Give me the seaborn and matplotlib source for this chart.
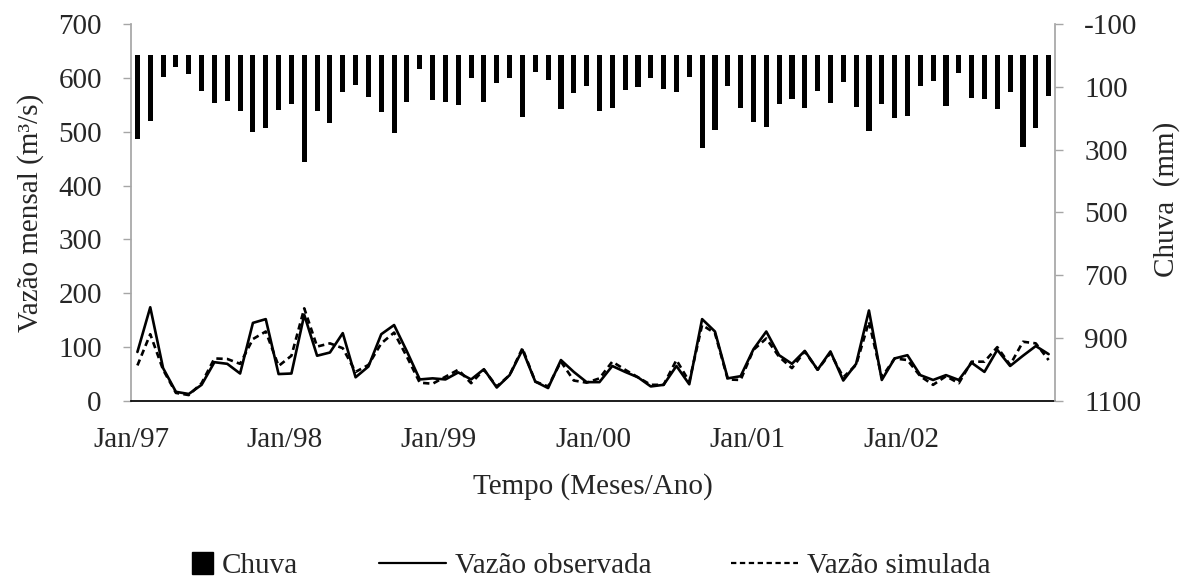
import numpy as np
import pandas as pd
import seaborn as sns
import matplotlib.pyplot as plt
from matplotlib.ticker import FixedLocator, MultipleLocator
from matplotlib.patches import Patch, Rectangle
from matplotlib.lines import Line2D
from matplotlib.legend_handler import HandlerPatch

# Dados mensais (Jan/97 a Dez/02)
chuva = [267, 208, 68, 38, 60, 113, 150, 144, 177, 243, 230, 174,
         155, 338, 178, 216, 117, 94, 133, 181, 247, 147, 42, 142,
         147, 158, 73, 148, 89, 73, 197, 52, 77, 172, 119, 98,
         176, 168, 110, 101, 73, 106, 115, 70, 294, 236, 97, 168,
         213, 228, 156, 140, 168, 112, 152, 84, 163, 242, 156, 200,
         193, 97, 81, 162, 55, 134, 140, 172, 115, 290, 231, 129]

vazao_obs = [91, 174, 61, 17, 13, 30, 72, 69, 51, 145, 152, 50,
             51, 160, 84, 90, 126, 44, 64, 124, 141, 92, 40, 42,
             40, 53, 40, 59, 25, 48, 95, 36, 24, 76, 54, 35,
             35, 65, 54, 44, 27, 30, 65, 31, 152, 129, 42, 46,
             96, 129, 85, 69, 93, 58, 92, 38, 69, 168, 39, 79,
             85, 48, 39, 48, 39, 71, 54, 95, 65, 84, 102, 87]

vazao_sim = [66, 124, 58, 15, 11, 33, 79, 78, 69, 115, 129, 65,
             84, 172, 101, 107, 98, 54, 67, 107, 127, 82, 34, 32,
             45, 58, 33, 58, 27, 48, 98, 36, 27, 73, 38, 34,
             42, 73, 58, 44, 30, 30, 76, 36, 141, 126, 40, 39,
             95, 116, 82, 61, 92, 58, 89, 44, 67, 147, 44, 79,
             76, 46, 30, 46, 33, 73, 73, 100, 67, 110, 107, 76]

rotulos_x = ["Jan/97", "Jan/98", "Jan/99", "Jan/00", "Jan/01", "Jan/02"]

df = pd.DataFrame({
    "mes": np.arange(len(chuva)) + 0.5,
    "chuva": chuva,
    "obs": vazao_obs,
    "sim": vazao_sim,
})

sns.set_theme(style="white")
plt.rcParams["font.family"] = ["Liberation Serif", "DejaVu Serif"]
plt.rcParams["font.size"] = 21
plt.rcParams["axes.unicode_minus"] = False

cinza = "#a6a6a6"
tracejado = (0, (2.4, 1.6))

fig = plt.figure(figsize=(11.92, 5.87), dpi=100)
ax = fig.add_axes([0.1099, 0.3169, 0.7752, 0.6422])
ax2 = ax.twinx()

# Chuva (barras no eixo invertido da direita)
sns.barplot(data=df, x="mes", y="chuva", native_scale=True, color="black",
            saturation=1, width=0.4, linewidth=0, errorbar=None, ax=ax2)

# Vazões
sns.lineplot(data=df, x="mes", y="obs", color="black", linewidth=1.9, ax=ax)
sns.lineplot(data=df, x="mes", y="sim", color="black", linewidth=1.9,
             linestyle=tracejado, ax=ax)

ax.set_xlim(0, 72)
ax.set_ylim(0, 700)
ax2.set_ylim(1100, -100)

ax.xaxis.set_major_locator(FixedLocator(list(range(0, 72, 12))))
ax.set_xticklabels(rotulos_x)
ax.xaxis.set_minor_locator(MultipleLocator(1))
ax.set_yticks(range(0, 701, 100))
ax2.set_yticks(range(-100, 1101, 200))

ax.tick_params(axis="x", which="major", direction="inout", length=12, width=1,
               color="black", pad=13, labelsize=21)
ax.tick_params(axis="x", which="minor", direction="out", length=6, width=1,
               color="black")
ax.tick_params(axis="y", direction="out", length=6, width=1, color=cinza,
               pad=15, labelsize=21, left=True)
ax2.tick_params(axis="y", direction="out", length=6, width=1, color=cinza,
                pad=15, labelsize=21, right=True)

for s in ["top", "right"]:
    ax.spines[s].set_visible(False)
for s in ["top", "left", "bottom"]:
    ax2.spines[s].set_visible(False)
ax.spines["left"].set_color(cinza)
ax.spines["bottom"].set_color("black")
ax2.spines["right"].set_color(cinza)

ax.set_xlabel("Tempo (Meses/Ano)", fontsize=21)
ax.xaxis.set_label_coords(0.5, -0.19)
ax.set_ylabel("Vazão mensal (m³/s)", fontsize=21)
ax.yaxis.set_label_coords(-0.094, 0.5)
ax2.set_ylabel("Chuva  (mm)", fontsize=21)
ax2.yaxis.set_label_coords(1.106, 0.535)


# quadrado pequeno para a legenda da chuva
def quadrado(legend, orig_handle, xdescent, ydescent, width, height, fontsize):
    lado = 0.75 * fontsize
    return Rectangle((width - xdescent - lado, -ydescent + (height - lado) / 2),
                     lado, lado)


handles = [
    Patch(facecolor="black", edgecolor="black"),
    Line2D([], [], color="black", linewidth=1.6),
    Line2D([], [], color="black", linewidth=1.6, linestyle=tracejado),
]
fig.legend(handles, ["Chuva", "Vazão observada", "Vazão simulada"],
           loc="center", bbox_to_anchor=(0.477, 0.036), ncol=3, frameon=False,
           fontsize=21, handlelength=2.3, handletextpad=0.3, columnspacing=2.75,
           handler_map={Patch: HandlerPatch(patch_func=quadrado)})

fig.savefig("out.png", dpi=100)
plt.close(fig)
